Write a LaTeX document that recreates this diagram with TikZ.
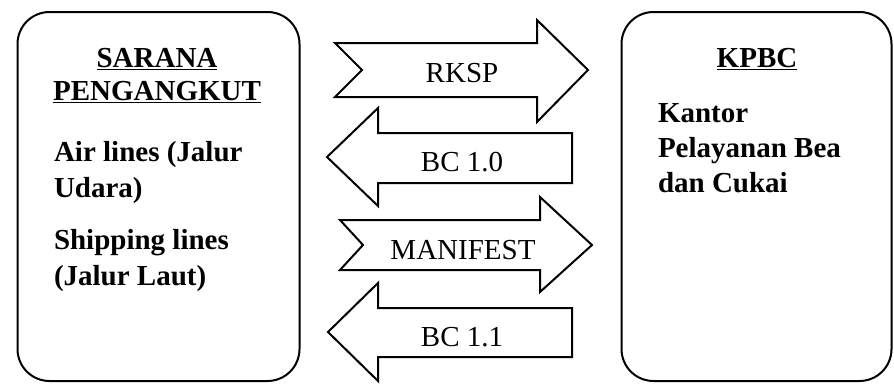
\documentclass[tikz,border=0pt]{standalone}
\usepackage{fontspec}
\setmainfont{Liberation Serif}
\usetikzlibrary{positioning}

\begin{document}
\begin{tikzpicture}[x=1pt, y=-1pt, line width=2pt,
    panel/.style={draw, rounded corners=32pt, minimum width=#1, minimum height=369pt, inner sep=0pt},
    head/.style={font=\fontsize{29}{33}\selectfont\bfseries, align=center, inner sep=0pt, anchor=north},
    body/.style={font=\fontsize{29}{36}\selectfont\bfseries, align=left, inner sep=0pt, anchor=north west},
    arrowtext/.style={font=\fontsize{29}{35}\selectfont, inner sep=0pt},
    blockarrow/.style={draw, fill=white, line join=miter}]

        \useasboundingbox (0,0) rectangle (894,383);

        \node[panel=282pt] (sarana) at (158.5,196.5) {};
        \node[panel=270pt] (kpbc) at (756.5,196.5) {};

        \node[head] (saranahead) at (157,47.5) {\underline{SARANA}\\\underline{PENGANGKUT}};
        \node[body] (saranatext) at (53,140) {Air lines (Jalur\\Udara)\\[16pt]Shipping lines\\(Jalur Laut)};

        \node[head] (kpbchead) at (757,47.5) {\underline{KPBC}};
        \node[body, font=\fontsize{29}{35}\selectfont\bfseries] (kpbctext) at (657,103) {Kantor\\Pelayanan Bea\\dan Cukai};

        \draw[blockarrow] (335,43) -- (537,43) -- (537,20) -- (588,70) -- (537,122) -- (537,97) -- (335,97) -- (362,70) -- cycle
            (462,73) node[arrowtext] (rksp) {RKSP};
        \draw[blockarrow] (327,157) -- (378,108) -- (378,133) -- (572,133) -- (572,183) -- (378,183) -- (378,206) -- cycle
            (462,162) node[arrowtext] (bc10) {BC 1.0};
        \draw[blockarrow] (340,220) -- (540,220) -- (540,197) -- (592,245) -- (540,292) -- (540,270) -- (340,270) -- (363,245) -- cycle
            (463,250) node[arrowtext] (manifest) {MANIFEST};
        \draw[blockarrow] (328,332) -- (378,283) -- (378,308) -- (572,308) -- (572,357) -- (378,357) -- (378,381) -- cycle
            (462,337) node[arrowtext] (bc11) {BC 1.1};

      \end{tikzpicture}
\end{document}
